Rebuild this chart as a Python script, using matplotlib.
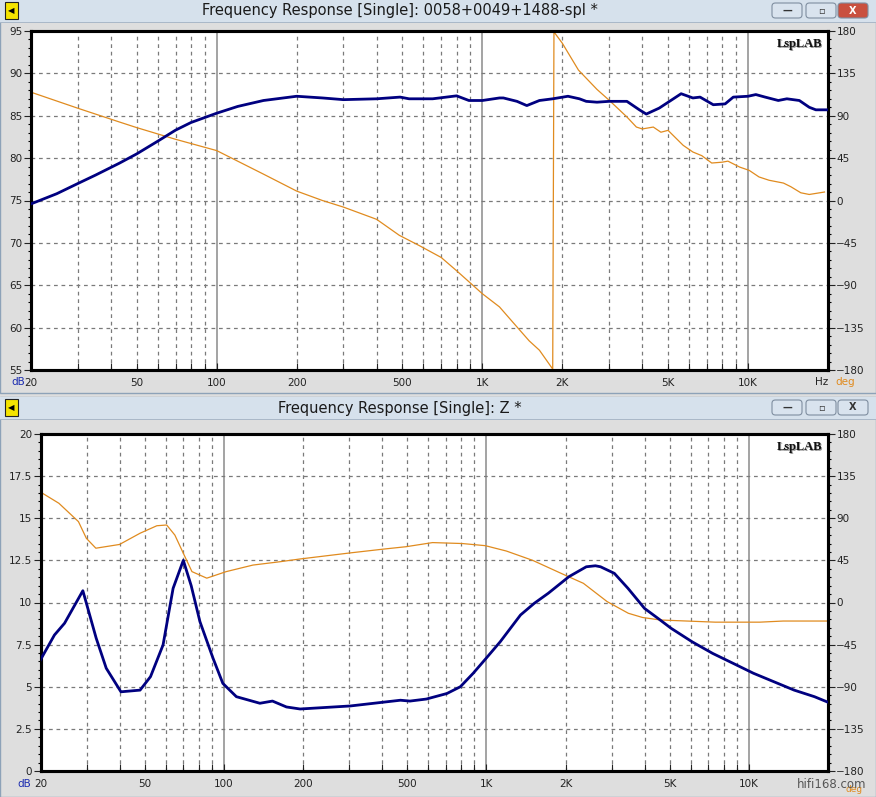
import matplotlib
matplotlib.use("Agg")
import matplotlib.pyplot as plt
from matplotlib.patches import Rectangle, FancyBboxPatch
from matplotlib.ticker import FixedLocator, NullFormatter

W, H = 876, 797

# ---- data: SPL window ----
spl_f = [20, 25, 30, 35, 43, 50, 60, 70, 80, 100, 120, 150, 200, 250, 300, 400,
         490, 530, 650, 800, 890, 1000, 1160, 1200, 1350, 1470, 1640, 1840, 2100,
         2320, 2460, 2700, 3000, 3500, 3900, 4140, 4630, 5600, 6200, 6600, 7400,
         8200, 8800, 10000, 10700, 11600, 13000, 14000, 15600, 17000, 18000, 20000]
spl_db = [74.6, 75.8, 77.0, 78.0, 79.4, 80.5, 82.0, 83.3, 84.2, 85.3, 86.1, 86.8,
          87.3, 87.1, 86.9, 87.0, 87.2, 87.0, 87.0, 87.35, 86.8, 86.8, 87.1, 87.1,
          86.7, 86.2, 86.8, 87.0, 87.3, 87.0, 86.7, 86.6, 86.7, 86.7, 85.7, 85.2,
          85.9, 87.6, 87.1, 87.2, 86.3, 86.4, 87.2, 87.3, 87.5, 87.2, 86.8, 87.0,
          86.8, 86.0, 85.7, 85.7]

spl_ph_f = [20, 30, 43, 50, 70, 100, 150, 200, 250, 300, 400, 487, 580, 700, 800,
            1000, 1160, 1300, 1500, 1640, 1840, 1860, 2000, 2300, 2700, 3000, 3500,
            3800, 4000, 4400, 4700, 5000, 5700, 6200, 6700, 7300, 8000, 8400, 9300,
            10100, 11000, 12000, 13600, 14500, 15800, 17000, 19400]
spl_ph = [115, 98, 83.4, 77.4, 65, 53, 28, 10, 0, -7, -20, -37, -48, -60.5, -74.6,
          -99, -113, -129, -149, -159, -179, 179, 167, 138.5, 118, 106.5, 88.7,
          78, 76, 78, 72.5, 74.5, 58.6, 51.5, 47.6, 39.8, 40.7, 41.8, 35.5, 32,
          25, 21.5, 18.5, 14.6, 8.2, 6.4, 9]

# ---- data: impedance window ----
z_f = [20, 22.6, 24.7, 29, 32.6, 35.6, 40.5, 47.9, 52.5, 58.6, 64, 70, 75, 81,
       90.8, 99, 111.5, 137, 153, 173, 195, 303, 470, 511, 590, 707, 795, 890,
       997, 1128, 1348, 1520, 1720, 2060, 2400, 2600, 2720, 3070, 3460, 4000,
       4500, 5050, 6070, 7270, 8700, 10400, 12430, 14860, 17760, 20000]
z_ohm = [6.6, 8.07, 8.77, 10.7, 7.88, 6.1, 4.7, 4.8, 5.6, 7.48, 10.84, 12.5, 11.0,
         8.86, 6.7, 5.2, 4.41, 4.02, 4.15, 3.8, 3.68, 3.86, 4.2, 4.15, 4.27, 4.6,
         5.0, 5.8, 6.69, 7.67, 9.26, 9.95, 10.55, 11.53, 12.12, 12.18, 12.12,
         11.73, 10.84, 9.65, 9.06, 8.47, 7.67, 6.98, 6.39, 5.8, 5.3, 4.8, 4.41, 4.08]

z_ph_f = [20, 23.5, 27.9, 29.9, 32.5, 40, 47.9, 55.5, 60.5, 65, 70, 75.5, 86, 102,
          129, 164, 195, 303, 404, 494, 623, 808, 990, 1190, 1500, 2000, 2340,
          2880, 3470, 3930, 4600, 5800, 7440, 11000, 13500, 20000]
z_ph = [118, 106, 86.4, 68.6, 58, 62, 74, 82, 82.8, 72, 52.6, 33, 26, 33, 40,
        43.6, 46.5, 53, 57, 59.6, 64, 63, 60.7, 55, 45, 29, 20.5, 1, -11.5, -16,
        -18.7, -19.8, -21, -21, -19.8, -19.8]

xtick_vals = [20, 50, 100, 200, 500, 1000, 2000, 5000, 10000]
xtick_labels = ["20", "50", "100", "200", "500", "1K", "2K", "5K", "10K"]

BLUE = "#000080"
ORANGE = "#e08b1f"
SURROUND = "#dedede"
TICKFONT = ["Liberation Sans Narrow", "DejaVu Sans"]

fig = plt.figure(figsize=(W / 100, H / 100), dpi=100)
fig.patch.set_facecolor(SURROUND)


def px_rect(x, y, w, h, z=-5, **kw):
    r = Rectangle((x / W, 1 - (y + h) / H), w / W, h / H,
                  transform=fig.transFigure, zorder=z, **kw)
    fig.add_artist(r)
    return r


def px_text(x, y, s, **kw):
    return fig.text(x / W, 1 - y / H, s, **kw)


def window(top, bottom, title, active):
    # frame and title bar
    px_rect(0, top, W, bottom - top, facecolor=SURROUND, edgecolor="#8da2b8", lw=1)
    px_rect(0, top, W, 22, facecolor="#d6e1ec", edgecolor="none")
    px_rect(0, top + 22, W, 1, facecolor="#aab8c8", edgecolor="none")
    # icon
    px_rect(5, top + 2, 13, 17, facecolor="#f5e400", edgecolor="#222222", lw=0.8)
    px_text(11.5, top + 11, "◀", fontsize=6, ha="center", va="center", color="black")
    px_text(400, top + 11, title, fontsize=10.5, ha="center", va="center",
            color="#1a1a1a", family=["Liberation Sans Narrow", "DejaVu Sans"])
    # buttons
    btns = [(772, "—"), (806, "▫"), (838, "X")]
    for bx, sym in btns:
        close = sym == "X"
        fc = "#c9503f" if (close and active) else "#d9e3ee"
        b = FancyBboxPatch((bx / W, 1 - (top + 18) / H), 30 / W, 15 / H,
                           boxstyle="round,pad=0,rounding_size=0.004",
                           transform=fig.transFigure, facecolor=fc,
                           edgecolor="#7f8ea0", lw=0.8, zorder=-4)
        fig.add_artist(b)
        px_text(bx + 15, top + 10.5, sym, fontsize=7, ha="center", va="center",
                color="white" if (close and active) else "#333333", fontweight="bold")


def make_panel(rect_px, yl, yticks, ylab, f1, v1, f2, v2):
    x0, y0, x1, y1 = rect_px
    # white plot field behind both axes
    px_rect(x0, y0, x1 - x0, y1 - y0, z=-3, facecolor="white", edgecolor="none")
    pos = [x0 / W, 1 - y1 / H, (x1 - x0) / W, (y1 - y0) / H]
    # phase axes underneath (grid), magnitude twin on top
    axp = fig.add_axes(pos, facecolor="white")
    axm = axp.twinx()
    axp.yaxis.tick_right()
    axm.yaxis.tick_left()

    axp.set_xscale("log")
    axp.set_xlim(20, 20000)
    axp.set_ylim(-180, 180)
    axm.set_ylim(*yl)

    minors = [m * 10 ** k for k in range(1, 5) for m in range(2, 10) if 20 < m * 10 ** k < 20000]
    for f in minors:
        axp.axvline(f, color="#7a7a7a", lw=0.9, ls=(0, (3, 3)), zorder=0)
    for f in [100, 1000, 10000]:
        axp.axvline(f, color="#8a8a8a", lw=1.1, zorder=0)
    for d in [135, 90, 45, 0, -45, -90, -135]:
        axp.axhline(d, color="#7a7a7a", lw=0.9, ls=(0, (3, 3)), zorder=0)

    axp.plot(f2, v2, color=ORANGE, lw=0.9, zorder=2)
    axm.plot(f1, v1, color=BLUE, lw=2.0, zorder=3, solid_joinstyle="round")

    # x ticks
    axp.xaxis.set_major_locator(FixedLocator(xtick_vals))
    axp.set_xticklabels(xtick_labels)
    axp.xaxis.set_minor_locator(FixedLocator(minors))
    axp.xaxis.set_minor_formatter(NullFormatter())
    axp.tick_params(axis="x", which="both", direction="in", length=5, width=0.8,
                    labelsize=7.5, pad=6, colors="#222222")
    # left ticks (magnitude)
    axm.set_yticks(yticks)
    axm.set_yticklabels(ylab)
    step = (yticks[1] - yticks[0]) / 5
    axm.yaxis.set_minor_locator(FixedLocator(
        [yl[0] + i * step for i in range(int(round((yl[1] - yl[0]) / step)) + 1)]))
    axm.tick_params(axis="y", which="major", direction="out", length=5, width=0.8,
                    labelsize=7.5, pad=1, colors="#222222")
    axm.tick_params(axis="y", which="minor", direction="out", length=2.5, width=0.8)
    # right ticks (phase)
    axp.set_yticks(range(-180, 181, 45))
    axp.yaxis.set_minor_locator(FixedLocator(range(-180, 181, 9)))
    axp.tick_params(axis="y", which="major", direction="out", length=5, width=0.8,
                    labelsize=7.5, pad=1, colors="#222222")
    axp.tick_params(axis="y", which="minor", direction="out", length=2.5, width=0.8)
    for a in (axp, axm):
        for lab in a.get_xticklabels() + a.get_yticklabels():
            lab.set_family(TICKFONT)
        for s in a.spines.values():
            s.set_linewidth(2.2)
            s.set_color("black")

    # logo
    px_text(x1 - 5, y0 + 14, "LspLAB", fontsize=9, ha="right", va="center",
            family=["Liberation Serif", "DejaVu Serif"], fontweight="bold",
            color="#999999", zorder=10)
    px_text(x1 - 6, y0 + 13, "LspLAB", fontsize=9, ha="right", va="center",
            family=["Liberation Serif", "DejaVu Serif"], fontweight="bold",
            color="#111111", zorder=11)
    return axp, axm


window(0, 393, "Frequency Response [Single]: 0058+0049+1488-spl *", True)
window(397, 797, "Frequency Response [Single]: Z *", False)

make_panel((31, 31, 828, 370), (55, 95), list(range(55, 96, 5)),
           [str(v) for v in range(55, 96, 5)], spl_f, spl_db, spl_ph_f, spl_ph)
make_panel((40.5, 434, 828, 771), (0, 20), [i * 2.5 for i in range(9)],
           ["0", "2.5", "5", "7.5", "10", "12.5", "15", "17.5", "20"],
           z_f, z_ohm, z_ph_f, z_ph)

# axis unit labels
px_text(11, 382, "dB", fontsize=7.5, color="#1c2db0", va="center", family=TICKFONT)
px_text(815, 382, "Hz", fontsize=7.5, color="#222222", va="center", family=TICKFONT)
px_text(835, 382, "deg", fontsize=7.5, color=ORANGE, va="center", family=TICKFONT)
px_text(17, 784, "dB", fontsize=7.5, color="#1c2db0", va="center", family=TICKFONT)
px_text(845, 789, "deg", fontsize=6.5, color=ORANGE, va="center", family=TICKFONT)
px_text(797, 784, "hifi168.com", fontsize=8.5, color="#555555", va="center",
        family=TICKFONT, zorder=20)

fig.savefig("out.png", dpi=100, facecolor=fig.get_facecolor())
